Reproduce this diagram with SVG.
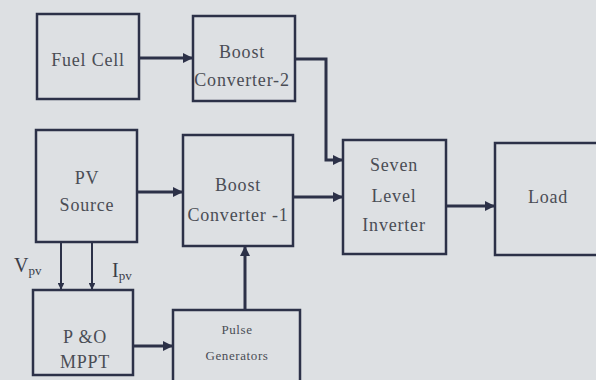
<svg xmlns="http://www.w3.org/2000/svg" width="596" height="380" viewBox="0 0 596 380">
<style>
.box{fill:none;stroke:#2c3148;stroke-width:2.5}
.c{fill:none;stroke:#2c3148;stroke-width:3}
text{font-family:'Liberation Serif','Times New Roman',serif}
.t{font-size:18px;fill:#4a4d55;text-anchor:middle;letter-spacing:0.8px}
.s{font-size:13px;letter-spacing:0.6px}
.lab{font-size:20px;fill:#3a3d48}
</style>
<defs>
<marker id="ah" viewBox="0 0 10 10" refX="9" refY="5" markerWidth="3.4" markerHeight="3.4" orient="auto" markerUnits="strokeWidth">
<path d="M0,0 L10,5 L0,10 z" fill="#2c3148"/>
</marker>
</defs>
<rect width="596" height="380" fill="#dde0e3"/>
<g id="fuelcell"><rect class="box" x="37" y="14" width="102" height="85"/><text class="t" x="88" y="66">Fuel Cell</text></g>
<g id="boost2"><rect class="box" x="193" y="16" width="102" height="85"/><text class="t" x="242" y="58">Boost</text><text class="t" x="242" y="86">Converter-2</text></g>
<g id="pv"><rect class="box" x="36" y="130" width="101" height="112"/><text class="t" x="87" y="184">PV</text><text class="t" x="87" y="211">Source</text></g>
<g id="boost1"><rect class="box" x="183" y="135" width="110" height="111"/><text class="t" x="238" y="191">Boost</text><text class="t" x="238" y="221">Converter -1</text></g>
<g id="inverter"><rect class="box" x="343" y="140" width="103" height="114"/><text class="t" x="394" y="171">Seven</text><text class="t" x="394" y="202">Level</text><text class="t" x="394" y="231">Inverter</text></g>
<g id="load"><rect class="box" x="495" y="143" width="110" height="112"/><text class="t" x="548" y="203">Load</text></g>
<g id="mppt"><rect class="box" x="33" y="290" width="100" height="85"/><text class="t" x="85" y="343">P &amp;O</text><text class="t" x="85" y="368">MPPT</text></g>
<g id="pulse"><rect class="box" x="173" y="310" width="127" height="80"/><text class="t s" x="237" y="334">Pulse</text><text class="t s" x="237" y="360">Generators</text></g>
<g id="connectors">
<line class="c" x1="139" y1="58" x2="192" y2="58" marker-end="url(#ah)"/>
<polyline class="c" points="295,59 326,59 326,160 342,160" marker-end="url(#ah)"/>
<line class="c" x1="137" y1="192" x2="182" y2="192" marker-end="url(#ah)"/>
<line class="c" x1="293" y1="197" x2="342" y2="197" marker-end="url(#ah)"/>
<line class="c" x1="446" y1="206" x2="494" y2="206" marker-end="url(#ah)"/>
<line class="c" x1="61" y1="242" x2="61" y2="289" marker-end="url(#ah)" style="stroke-width:2"/>
<line class="c" x1="92" y1="242" x2="92" y2="289" marker-end="url(#ah)" style="stroke-width:2"/>
<line class="c" x1="133" y1="346" x2="172" y2="346" marker-end="url(#ah)"/>
<line class="c" x1="245" y1="310" x2="245" y2="247" marker-end="url(#ah)"/>
</g>
<text class="lab" x="14" y="272">V<tspan font-size="13" dy="3">pv</tspan></text>
<text class="lab" x="112" y="277">I<tspan font-size="13" dy="3">pv</tspan></text>
</svg>
